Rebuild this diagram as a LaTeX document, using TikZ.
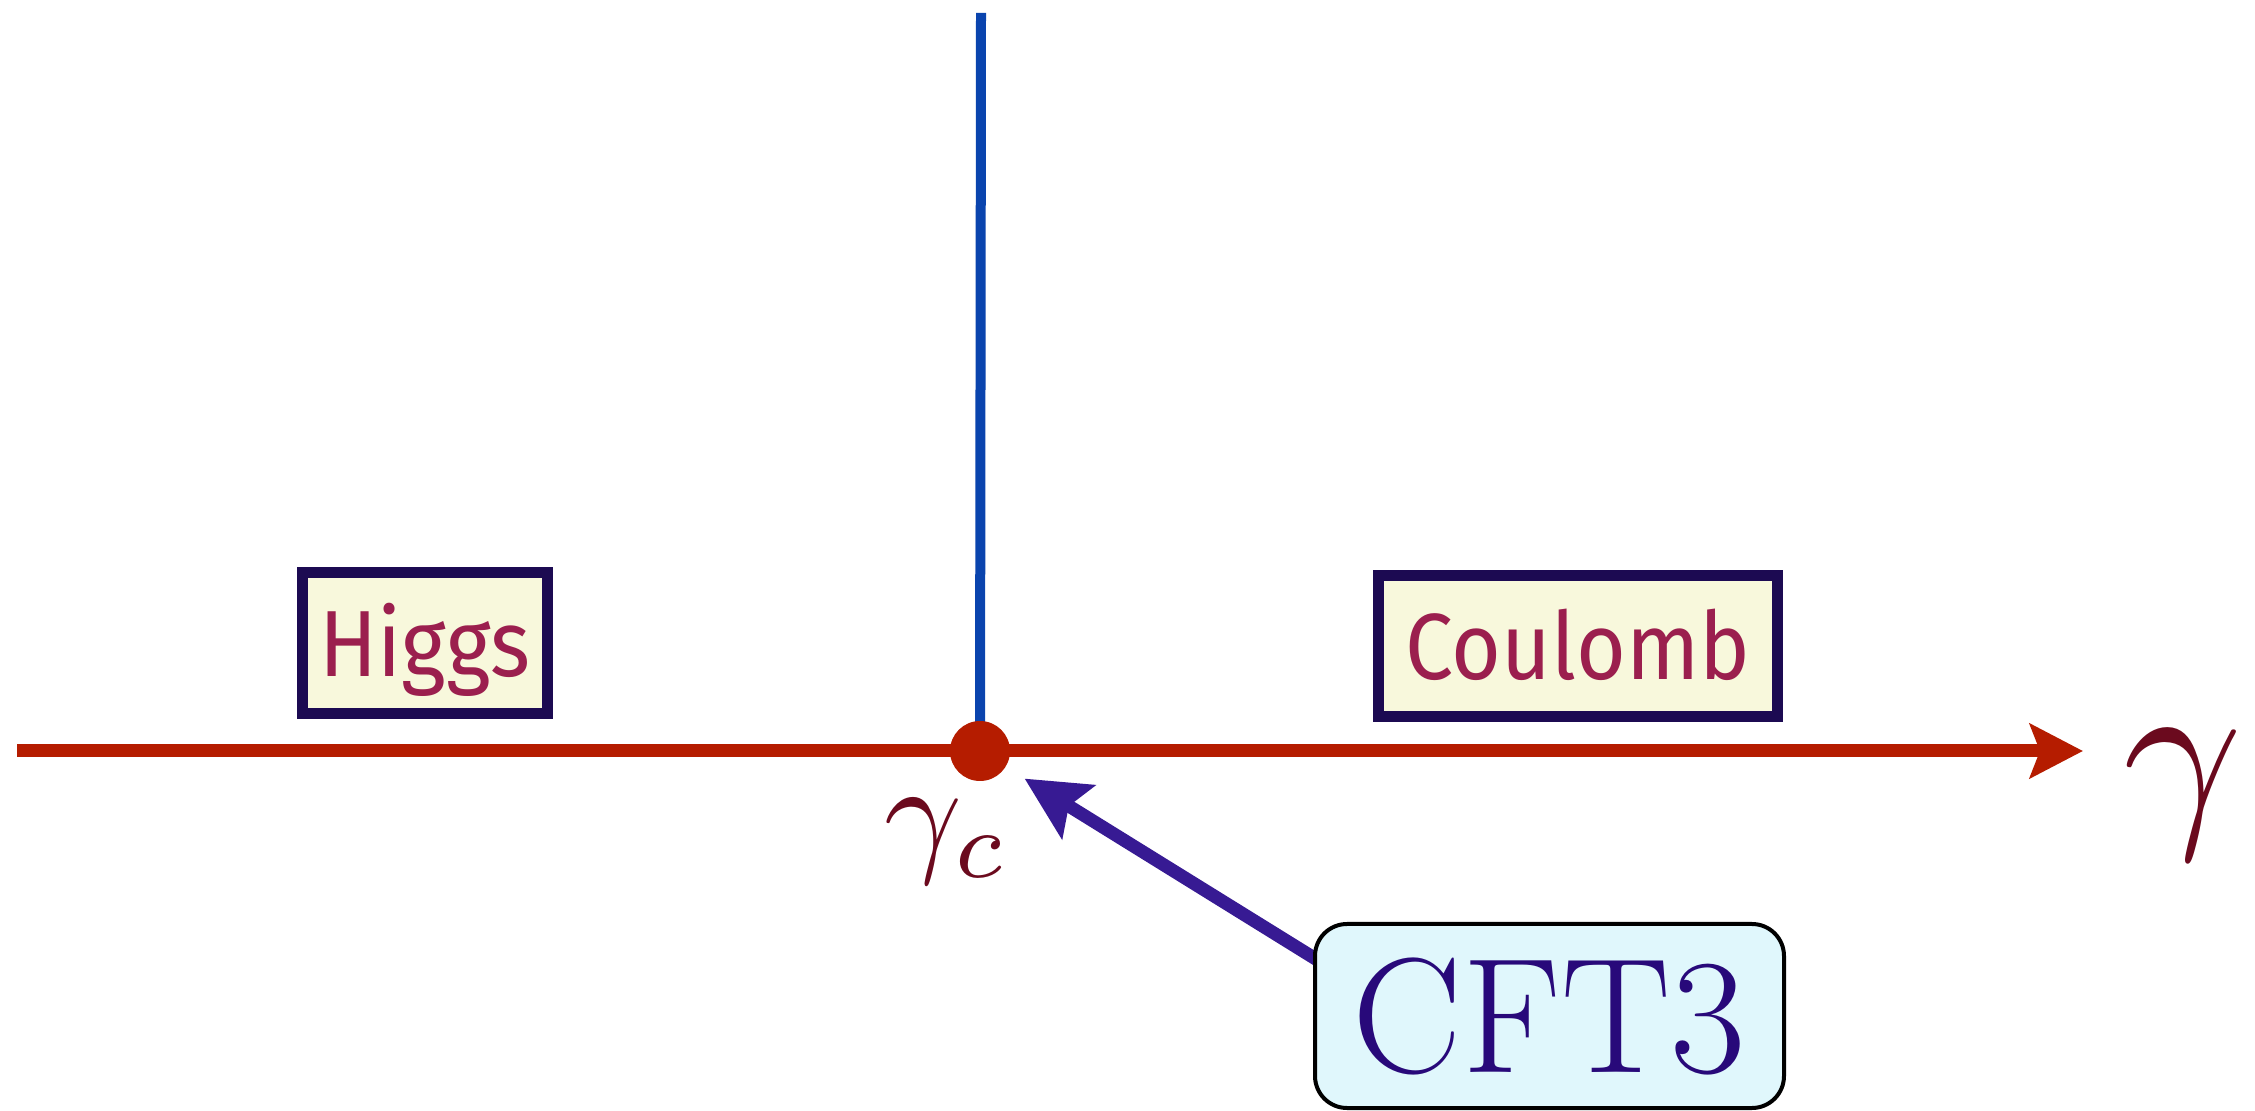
\documentclass[tikz,border=0pt]{standalone}
\usepackage{graphicx}
\usepackage{fontspec}
\newfontfamily\phasefont[FakeStretch=0.91]{Fira Sans}
\usetikzlibrary{arrows.meta}
\definecolor{axisred}{RGB}{181,28,0}
\definecolor{vblue}{RGB}{10,68,174}
\definecolor{boxedge}{RGB}{28,10,82}
\definecolor{boxfill}{RGB}{248,248,220}
\definecolor{phasetext}{RGB}{155,31,78}
\definecolor{cftfill}{RGB}{224,247,252}
\definecolor{cfttext}{RGB}{40,9,122}
\definecolor{arrowpurple}{RGB}{55,26,147}
\definecolor{gammared}{RGB}{107,10,30}
\begin{document}
\begin{tikzpicture}[x=0.5pt,y=-0.5pt,
  axisline/.style={draw=axisred, line width=6.5pt,
    -{Stealth[length=26.5pt,width=27pt,inset=5pt]}},
  vline/.style={draw=vblue, line width=5pt},
  dotnode/.style={circle, fill=axisred, minimum size=30pt, inner sep=0pt},
  phasebox/.style={draw=boxedge, line width=5.5pt, fill=boxfill, text=phasetext,
    inner sep=0pt, minimum height=70.5pt, text height=33.5pt, text depth=0pt,
    font=\phasefont\fontsize{47}{50}\selectfont},
  cftbox/.style={draw=black, line width=2pt, fill=cftfill, text=cfttext,
    rounded corners=16pt, inner sep=0pt, minimum width=234.5pt, minimum height=92pt,
    font=\fontsize{82}{90}\selectfont},
  cftarrow/.style={draw=arrowpurple, line width=6.5pt, shorten >=11pt,
    -{Stealth[length=31.5pt,width=31pt,inset=5.5pt]}},
  glabel/.style={text=gammared, inner sep=0pt}
]
\useasboundingbox (0,0) rectangle (2255,1111);
\coordinate (hstart) at (17,751);
\coordinate (hend) at (2083,751);
\coordinate (vtop) at (981,13);
\coordinate (dotc) at (980,751);
\coordinate (astart) at (1340,974);
\draw[axisline] (hstart) -- (hend);
\draw[vline] (vtop) -- (dotc);
\node[dotnode] (dot) at (dotc) {};
\node[phasebox, minimum width=122.5pt] (higgs) at (425,643) {Higgs};
\node[phasebox, minimum width=199.5pt] (coulomb) at (1578,646) {Coulomb};
\draw[cftarrow] (astart) -- (dot);
\node[cftbox] (cft) at (1549.5,1016) {CFT3};
\node[glabel] (gc) at (947,841) {\scalebox{6.8}{$\gamma_c$}};
\node[glabel] (g) at (2183,795) {\scalebox{10.4}{$\gamma$}};
\end{tikzpicture}
\end{document}
